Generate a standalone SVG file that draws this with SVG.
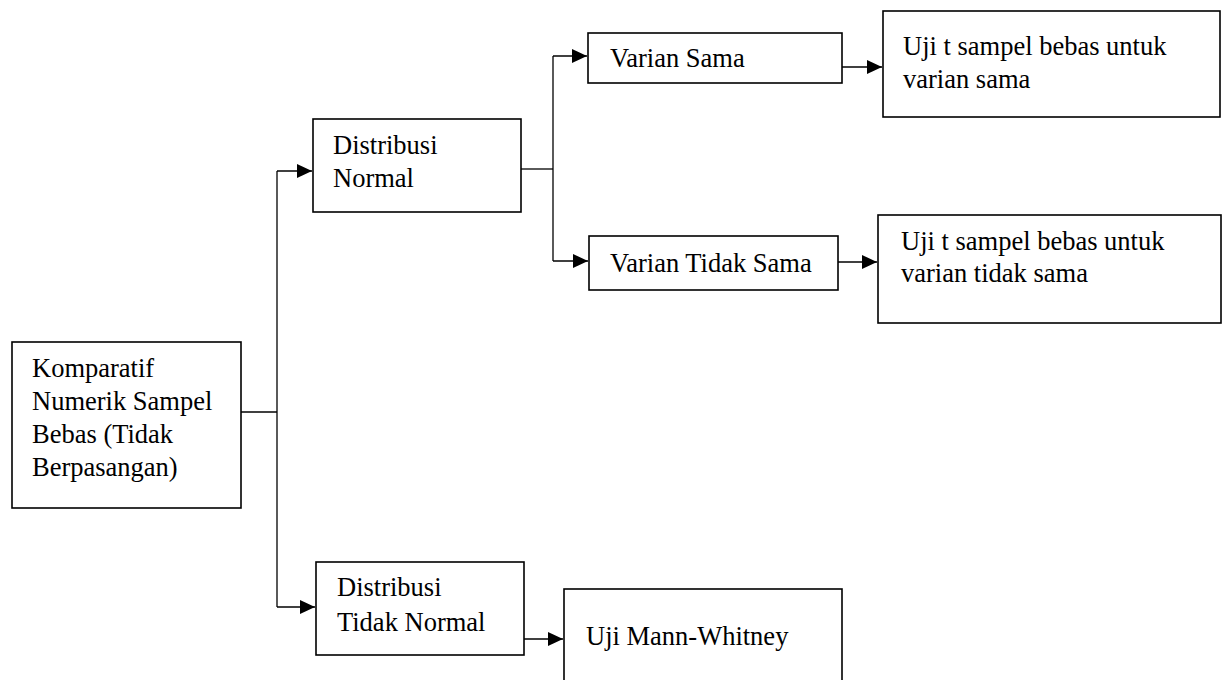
<svg xmlns="http://www.w3.org/2000/svg" width="1222" height="680" viewBox="0 0 1222 680">
<style>
.box{fill:#fff;stroke:#000;stroke-width:1.6}
.t{font-family:"Liberation Serif","Times New Roman","DejaVu Serif",serif;font-size:26.5px;fill:#000}
.c{fill:none;stroke:#000;stroke-width:1.3}
</style>
<defs>
<marker id="ah" markerUnits="userSpaceOnUse" markerWidth="16" markerHeight="14" refX="15" refY="7" orient="auto">
<path d="M0,0 L15,7 L0,14 Z" fill="#000"/>
</marker>
</defs>
<rect width="1222" height="680" fill="#fff"/>
<g id="connectors">
<path class="c" d="M241,412 H277"/>
<path class="c" d="M277,171 V607"/>
<path class="c" d="M277,171 H312" marker-end="url(#ah)"/>
<path class="c" d="M277,607 H315" marker-end="url(#ah)"/>
<path class="c" d="M521,169 H553"/>
<path class="c" d="M553,56 V261"/>
<path class="c" d="M553,56 H587" marker-end="url(#ah)"/>
<path class="c" d="M553,261 H588" marker-end="url(#ah)"/>
<path class="c" d="M842,67 H882" marker-end="url(#ah)"/>
<path class="c" d="M838,262 H877" marker-end="url(#ah)"/>
<path class="c" d="M524,639 H563" marker-end="url(#ah)"/>
</g>
<g id="n1">
<rect class="box" x="12" y="342" width="229" height="166"/>
<text class="t" x="32" y="377">Komparatif</text>
<text class="t" x="32" y="410">Numerik Sampel</text>
<text class="t" x="32" y="443">Bebas (Tidak</text>
<text class="t" x="32" y="476">Berpasangan)</text>
</g>
<g id="n2">
<rect class="box" x="313" y="119" width="208" height="93"/>
<text class="t" x="333" y="154">Distribusi</text>
<text class="t" x="333" y="187">Normal</text>
</g>
<g id="n3">
<rect class="box" x="588" y="33" width="254" height="50"/>
<text class="t" x="610" y="67">Varian Sama</text>
</g>
<g id="n4">
<rect class="box" x="883" y="11" width="337" height="106"/>
<text class="t" x="903" y="55">Uji t sampel bebas untuk</text>
<text class="t" x="903" y="88">varian sama</text>
</g>
<g id="n5">
<rect class="box" x="589" y="236" width="249" height="54"/>
<text class="t" x="610" y="272">Varian Tidak Sama</text>
</g>
<g id="n6">
<rect class="box" x="878" y="215" width="343" height="108"/>
<text class="t" x="901" y="250">Uji t sampel bebas untuk</text>
<text class="t" x="901" y="282">varian tidak sama</text>
</g>
<g id="n7">
<rect class="box" x="316" y="562" width="208" height="93"/>
<text class="t" x="337" y="596">Distribusi</text>
<text class="t" x="337" y="631">Tidak Normal</text>
</g>
<g id="n8">
<rect class="box" x="564" y="589" width="278" height="100"/>
<text class="t" x="586" y="645">Uji Mann-Whitney</text>
</g>
</svg>
